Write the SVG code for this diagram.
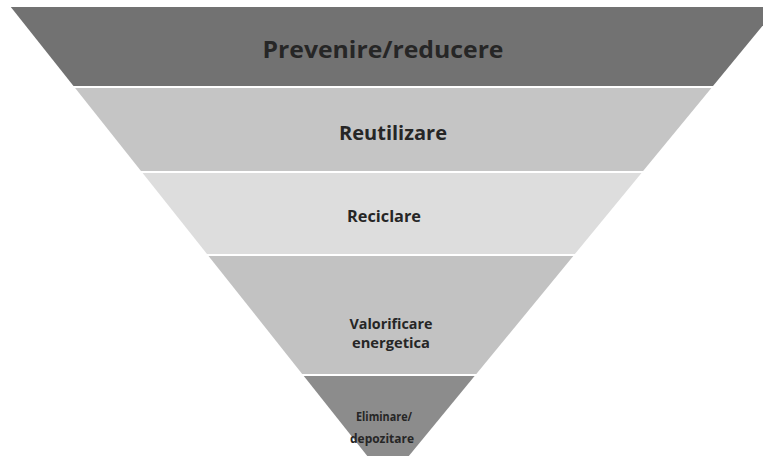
<svg xmlns="http://www.w3.org/2000/svg" width="763" height="456" viewBox="0 0 763 456">
  <style>
    .lbl { font-family: "Open Sans", "Liberation Sans", sans-serif; font-weight: bold; fill: #262626; text-anchor: middle; }
  </style>
  <rect width="763" height="456" fill="#ffffff"/>
  <g id="prevenire">
    <polygon points="10.8,7 778,7 713,86 73.5,86" fill="#727272"/>
    <text class="lbl" x="383" y="58" font-size="24" textLength="241" lengthAdjust="spacingAndGlyphs">Prevenire/reducere</text>
  </g>
  <g id="reutilizare">
    <polygon points="75.1,88 711.4,88 643.1,171 141,171" fill="#c5c5c5"/>
    <text class="lbl" x="393" y="140" font-size="20" textLength="108" lengthAdjust="spacingAndGlyphs">Reutilizare</text>
  </g>
  <g id="reciclare">
    <polygon points="142.6,173 641.5,173 574.9,254 207,254" fill="#dddddd"/>
    <text class="lbl" x="384" y="222" font-size="16" textLength="74" lengthAdjust="spacingAndGlyphs">Reciclare</text>
  </g>
  <g id="valorificare">
    <polygon points="208.5,256 573.3,256 476.3,374 302.2,374" fill="#c2c2c2"/>
    <text class="lbl" x="391" y="329" font-size="14" textLength="83" lengthAdjust="spacingAndGlyphs">Valorificare</text>
    <text class="lbl" x="391" y="348" font-size="14" textLength="78" lengthAdjust="spacingAndGlyphs">energetica</text>
  </g>
  <g id="eliminare">
    <polygon points="303.8,376 474.6,376 387.7,481.7" fill="#8c8c8c"/>
    <text class="lbl" x="384" y="421" font-size="12" textLength="56" lengthAdjust="spacingAndGlyphs">Eliminare/</text>
    <text class="lbl" x="382" y="443" font-size="12" textLength="64" lengthAdjust="spacingAndGlyphs">depozitare</text>
  </g>
  <g id="connectors"/>
</svg>
